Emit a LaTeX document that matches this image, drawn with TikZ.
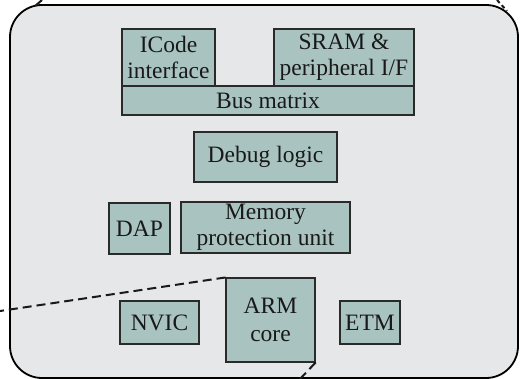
\documentclass[tikz,border=0pt]{standalone}
\usepackage{fontspec}
\setmainfont{Liberation Serif}
\definecolor{bgray}{HTML}{E6E7E9}
\definecolor{boxfill}{HTML}{A9C4C0}
\definecolor{boxline}{HTML}{2A2A2A}
\begin{document}
\begin{tikzpicture}[x=1pt,y=-1pt,
  blk/.style={draw=boxline,fill=boxfill,line width=1.1pt,inner sep=0pt,align=center,
    font=\fontsize{23.5}{26}\selectfont,text=black!90},
  lens/.style={draw=black!90,line width=2pt,dash pattern=on 9pt off 5pt}]
\useasboundingbox (0,0) rectangle (524,379);
\draw[line width=1.8pt,fill=bgray,rounded corners=32pt] (10,5) rectangle (518,378);
% blocks
\node[blk,minimum width=93pt,minimum height=57pt] (icode) at (168.5,57.5) {ICode\\interface};
\node[blk,minimum width=140pt,minimum height=57pt] (sram) at (344,57.5) {SRAM \&\\peripheral I/F};
\node[blk,minimum width=292pt,minimum height=29pt] (bus) at (268,100.5) {Bus matrix};
\node[blk,minimum width=143pt,minimum height=50pt] (debug) at (265.5,157) {Debug logic};
\node[blk,minimum width=61pt,minimum height=51pt] (dap) at (139.5,228.5) {DAP};
\node[blk,minimum width=169pt,minimum height=51pt] (mpu) at (265.5,227.5) {Memory\\protection unit};
\node[blk,minimum width=79pt,minimum height=43pt] (nvic) at (159.5,322.5) {NVIC};
\node[blk,minimum width=89pt,minimum height=84pt] (arm) at (270.5,320) {ARM\\[2pt]core};
\node[blk,minimum width=60pt,minimum height=43pt] (etm) at (370,322.5) {ETM};
% zoom lens lines
\coordinate (l1) at (0,311);
\coordinate (l2) at (300,379);
\coordinate (t1a) at (42,0);
\coordinate (t1b) at (34,7);
\coordinate (t2a) at (497,0);
\coordinate (t2b) at (507,11);
\draw[lens] (arm.north west) -- (l1);
\draw[lens] (arm.south east) -- (l2);
\draw[lens] (t1a) -- (t1b);
\draw[lens,dash pattern=on 4pt off 3pt] (t2a) -- (t2b);
\end{tikzpicture}
\end{document}
